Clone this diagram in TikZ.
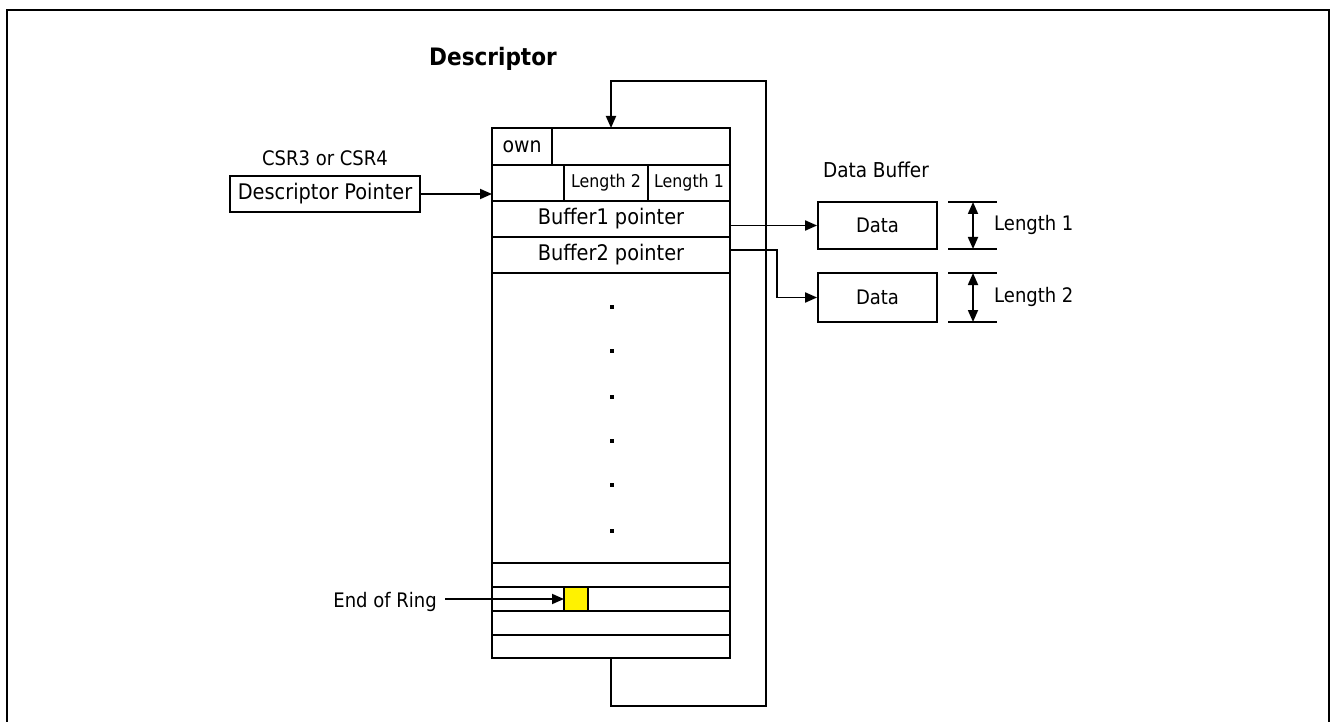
\documentclass[tikz,border=0pt]{standalone}
\usepackage{fontspec}
\setmainfont{DejaVu Sans Condensed}
\usetikzlibrary{arrows.meta,calc}
\begin{document}
\begin{tikzpicture}[x=1pt,y=-1pt,
  line width=1.8pt,
  cell/.style={draw,inner sep=0pt,outer sep=0pt,anchor=north west},
  txt/.style={font=\fontsize{20}{22}\selectfont},
  bigtxt/.style={font=\fontsize{21.5}{23}\selectfont},
  smalltxt/.style={font=\fontsize{17.6}{19}\selectfont},
  arr/.style={-{Triangle[length=12pt,width=10pt]}},
  dblarr/.style={{Triangle[length=12pt,width=10pt]}-{Triangle[length=12pt,width=10pt]}},
  dot/.style={rectangle,fill=black,inner sep=0pt,minimum size=3.5pt}]
\useasboundingbox (0,0) rectangle (1331,722);
% frame
\draw[line width=2pt] (7,722) -- (7,10) -- (1329,10) -- (1329,722);
% title
\node[font=\fontsize{24}{26}\selectfont\bfseries] (title) at (493,59) {Descriptor};
% descriptor table
\node[cell,minimum width=60pt,minimum height=37pt] (own) at (492,128) {};
\node[font=\fontsize{21}{23}\selectfont] (ownt) at (own.center) {own};
\node[cell,minimum width=178pt,minimum height=37pt] (ownrest) at (552,128) {};
\node[cell,minimum width=72pt,minimum height=36pt] (l0) at (492,165) {};
\node[cell,minimum width=84pt,minimum height=36pt,smalltxt] (len2) at (564,165) {Length 2};
\node[cell,minimum width=82pt,minimum height=36pt,smalltxt] (len1) at (648,165) {Length 1};
\node[cell,minimum width=238pt,minimum height=36pt,bigtxt] (buf1) at (492,201) {Buffer1 pointer};
\node[cell,minimum width=238pt,minimum height=36pt,bigtxt] (buf2) at (492,237) {Buffer2 pointer};
\node[cell,minimum width=238pt,minimum height=290pt] (big) at (492,273) {};
\node[cell,minimum width=238pt,minimum height=24pt] (r6) at (492,563) {};
\node[cell,minimum width=238pt,minimum height=24pt] (r7) at (492,587) {};
\node[cell,minimum width=238pt,minimum height=24pt] (r8) at (492,611) {};
\node[cell,minimum width=238pt,minimum height=23pt] (r9) at (492,635) {};
\node[cell,minimum width=24pt,minimum height=24pt,fill=yellow] (eor) at (564,587) {};
% dots
\foreach \i/\yy in {1/307,2/351,3/397,4/441,5/485,6/531}
  \node[dot] (dot\i) at (612,\yy) {};
% descriptor pointer
\node[draw,bigtxt,minimum width=190pt,minimum height=36pt,inner sep=0pt] (dp) at (325,194) {Descriptor Pointer};
\node[txt] (csr) at (325,158) {CSR3 or CSR4};
\draw[arr] (dp.east) -- (dp.east -| l0.west);
% data buffers
\node[font=\fontsize{20.5}{22}\selectfont] (dbl) at (876,170) {Data Buffer};
\node[draw,txt,minimum width=119pt,minimum height=47pt,inner sep=0pt] (d1) at (877.5,225.5) {Data};
\node[draw,txt,minimum width=119pt,minimum height=49pt,inner sep=0pt] (d2) at (877.5,297.5) {Data};
\draw[arr] (d1.west -| buf1.east) -- (d1.west);
\draw[arr] (d1.south -| buf2.east) -| ($(d2.west)+(-40,0)$) -- (d2.west);
% dimensions
\coordinate (t1a) at (948,202); \coordinate (t1b) at (948,249);
\coordinate (t2a) at (948,273); \coordinate (t2b) at (948,322);
\draw (t1a) -- ++(49,0); \draw (t1b) -- ++(49,0);
\draw (t2a) -- ++(49,0); \draw (t2b) -- ++(49,0);
\draw[dblarr] ($(t1a)+(25,0)$) -- ($(t1b)+(25,0)$);
\draw[dblarr] ($(t2a)+(25,0)$) -- ($(t2b)+(25,0)$);
\node[txt,anchor=west] (dl1) at (990,225) {Length 1};
\node[txt,anchor=west] (dl2) at (990,297) {Length 2};
% end of ring
\node[txt,anchor=east] (eorl) at (441,602) {End of Ring};
\draw[arr] (eorl.east |- eor.west) ++(4,0) -- (eor.west);
% loop
\coordinate (lb) at (611,706);
\coordinate (lr) at (766,706);
\coordinate (lt) at (766,81);
\coordinate (ltl) at (611,81);
\coordinate (ttop) at (611,128);
\draw[arr] (r9.south -| lb) -- (lb) -- (lr) -- (lt) -- (ltl) -- (ttop);
\end{tikzpicture}
\end{document}
